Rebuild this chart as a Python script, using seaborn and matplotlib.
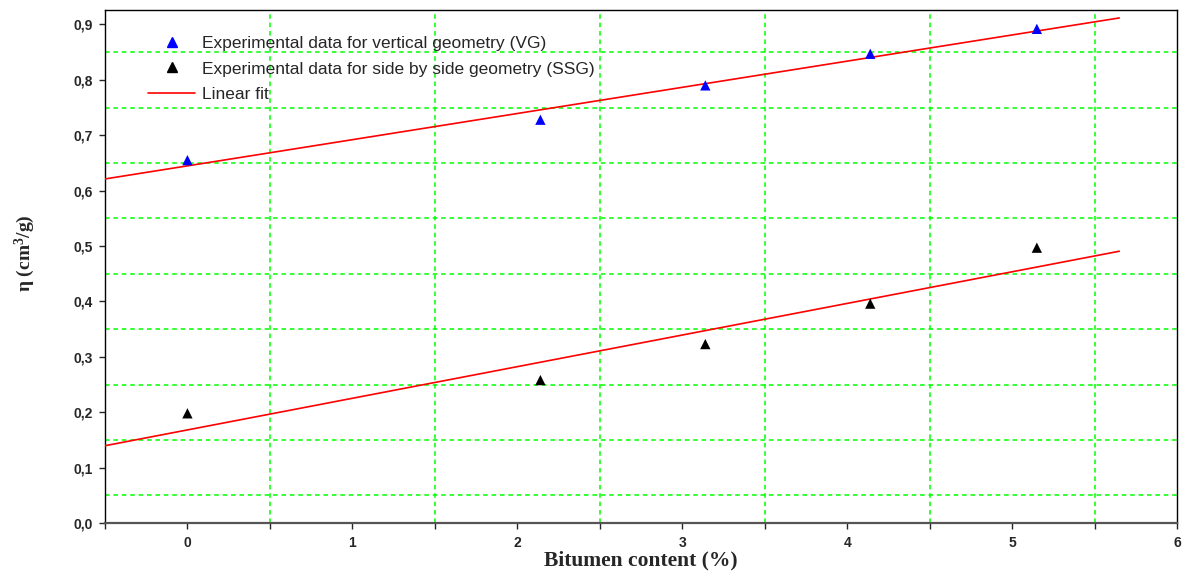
import numpy as np
import pandas as pd
import matplotlib
matplotlib.use("Agg")
import matplotlib.pyplot as plt
from matplotlib.ticker import MultipleLocator, FuncFormatter
from matplotlib.lines import Line2D
import seaborn as sns

# data
bitumen = [0.0, 2.14, 3.14, 4.14, 5.15]
eta_vg = [0.655, 0.728, 0.790, 0.847, 0.892]
eta_ssg = [0.198, 0.258, 0.323, 0.396, 0.497]
fit_range = [-0.5, 5.65]

sns.set_style("white")
plt.rcParams['font.family'] = ['Liberation Sans', 'DejaVu Sans']
plt.rcParams['mathtext.fontset'] = 'custom'
plt.rcParams['mathtext.rm'] = 'Liberation Serif:bold'
plt.rcParams['mathtext.it'] = 'Liberation Serif:bold'

df = pd.DataFrame({'x': bitumen, 'vg': eta_vg, 'ssg': eta_ssg})

fig = plt.figure(figsize=(11.82, 5.76), dpi=100)
ax = fig.add_axes([0.0888, 0.092, 0.9070, 0.8906])

# linear fits from the points
xs = np.array(fit_range)
fits = []
for col in ['vg', 'ssg']:
    k, b = np.polyfit(df['x'], df[col], 1)
    fits.append(pd.DataFrame({'x': xs, 'y': k * xs + b}))
for f in fits:
    sns.lineplot(data=f, x='x', y='y', color='#ff0000', lw=1.2, ax=ax, zorder=3)

sns.scatterplot(data=df, x='x', y='vg', marker='^', color='#0000ff', s=55,
                edgecolor='none', ax=ax, zorder=4)
sns.scatterplot(data=df, x='x', y='ssg', marker='^', color='black', s=55,
                edgecolor='none', ax=ax, zorder=4)

ax.set_xlim(-0.5, 6.0)
ax.set_ylim(0.0, 0.926)
ax.xaxis.set_major_locator(MultipleLocator(1))
ax.xaxis.set_minor_locator(MultipleLocator(0.5))
ax.yaxis.set_major_locator(MultipleLocator(0.1))
ax.yaxis.set_minor_locator(MultipleLocator(0.05))
ax.yaxis.set_major_formatter(FuncFormatter(lambda v, p: f"{v:.1f}".replace('.', ',')))
ax.xaxis.set_major_formatter(FuncFormatter(lambda v, p: f"{v:.0f}" if v >= 0 else ""))

ax.grid(which='minor', color='#00ff00', linestyle=(0, (3, 2.5)), lw=1.1)
ax.grid(which='major', visible=False)
ax.tick_params(which='major', direction='out', length=4, width=1, labelsize=10,
               left=True, bottom=True, pad=5)
ax.tick_params(axis='x', which='minor', direction='out', length=4, width=1, bottom=True)
for lab in ax.get_xticklabels() + ax.get_yticklabels():
    lab.set_fontweight('bold')

for s in ['top', 'right', 'left']:
    ax.spines[s].set_color('black')
    ax.spines[s].set_linewidth(1.0)
ax.spines['bottom'].set_color('#555555')
ax.spines['bottom'].set_linewidth(1.6)

ax.set_xlabel('Bitumen content (%)', family='Liberation Serif', fontweight='bold',
              fontsize=15.5, labelpad=1)
ax.set_ylabel(r'η (cm$^3$/g)', family='Liberation Serif', fontweight='bold',
              fontsize=14)
ax.yaxis.set_label_coords(-0.063, 0.526)

handles = [
    Line2D([], [], marker='^', color='#0000ff', ls='none', markersize=7),
    Line2D([], [], marker='^', color='black', ls='none', markersize=7),
    Line2D([], [], color='#ff0000', lw=1.2),
]
labels = ['Experimental data for vertical geometry (VG)',
          'Experimental data for side by side geometry (SSG)',
          'Linear fit']
ax.legend(handles, labels, loc='upper left', bbox_to_anchor=(0.034, 0.964),
          frameon=False, fontsize=12.5, handlelength=2.7, handletextpad=0.4,
          labelspacing=0.62, borderaxespad=0)

fig.savefig('out.png', dpi=100)
